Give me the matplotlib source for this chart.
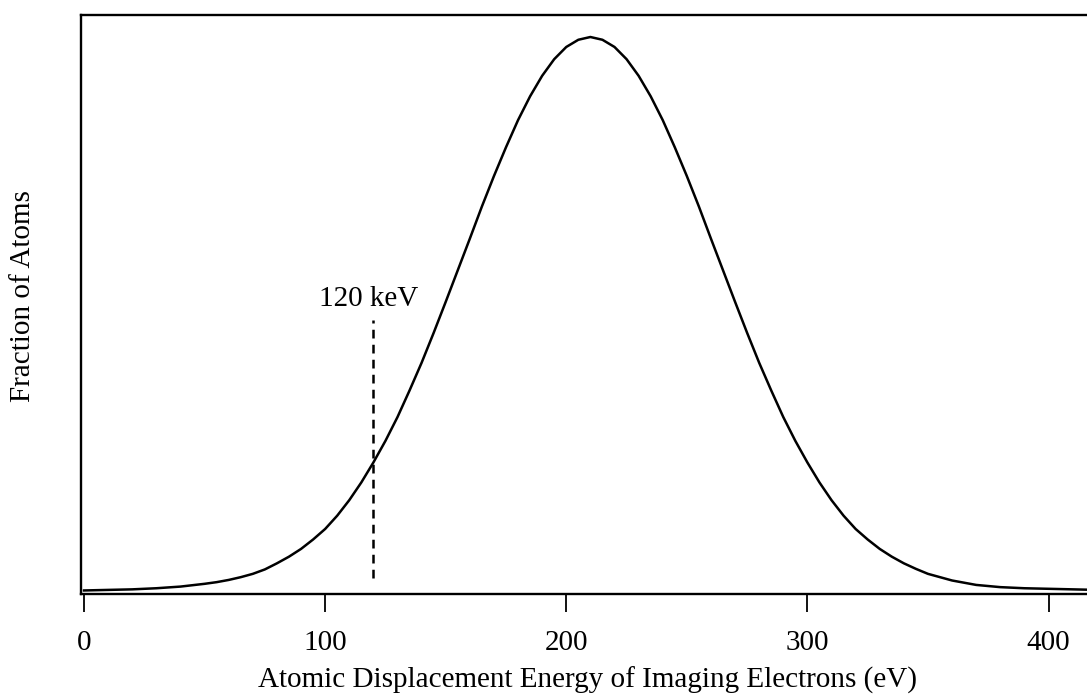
import matplotlib
matplotlib.use("Agg")
import matplotlib.pyplot as plt

plt.rcParams['font.family'] = ['Liberation Serif', 'DejaVu Serif']

# energy grid (eV) and relative fraction of atoms
energy = [0, 10, 20, 30, 40, 50, 55, 60, 65, 70, 75, 80, 85, 90, 95, 100,
          105, 110, 115, 120, 125, 130, 135, 140, 145, 150, 155, 160, 165,
          170, 175, 180, 185, 190, 195, 200, 205, 210, 215, 220, 225, 230,
          235, 240, 245, 250, 255, 260, 265, 270, 275, 280, 285, 290, 295,
          300, 305, 310, 315, 320, 325, 330, 335, 340, 345, 350, 355, 360,
          365, 370, 380, 390, 400, 410, 420]
fraction = [0.001, 0.002, 0.003, 0.005, 0.008, 0.013, 0.016, 0.020, 0.025,
            0.031, 0.039, 0.050, 0.062, 0.076, 0.093, 0.112, 0.136, 0.164,
            0.196, 0.232, 0.271, 0.314, 0.362, 0.412, 0.466, 0.522, 0.579,
            0.636, 0.694, 0.749, 0.801, 0.850, 0.893, 0.930, 0.960, 0.982,
            0.995, 1.000, 0.995, 0.982, 0.960, 0.930, 0.893, 0.850, 0.801,
            0.749, 0.694, 0.636, 0.579, 0.522, 0.466, 0.412, 0.362, 0.314,
            0.271, 0.232, 0.196, 0.164, 0.136, 0.112, 0.093, 0.076, 0.062,
            0.050, 0.040, 0.031, 0.025, 0.019, 0.015, 0.011, 0.007, 0.005,
            0.004, 0.003, 0.002]

beam_energy = 120
beam_label = '120 keV'
xticks = [0, 100, 200, 300, 400]

fig = plt.figure(figsize=(10.87, 6.94), dpi=100)
ax = fig.add_axes([0.0741, 0.1448, 0.9333, 0.8343])

ax.plot(energy, fraction, color='black', lw=1.8, solid_joinstyle='round')
ax.vlines(beam_energy, 0.023, 0.49, colors='black', lw=1.8,
          linestyles=(0, (3.5, 2.5)))
ax.text(117.9, 0.514, beam_label, ha='center', va='baseline', fontsize=21)

ax.set_xlim(-1.45, 419.3)
ax.set_ylim(-0.0045, 1.0406)
ax.set_xticks(xticks)
ax.set_yticks([])
ax.tick_params(axis='x', direction='out', length=13, width=1.3, pad=13,
               labelsize=21)
for side in ['left', 'top', 'bottom', 'right']:
    ax.spines[side].set_linewidth(1.7)

ax.set_xlabel('Atomic Displacement Energy of Imaging Electrons (eV)',
              fontsize=21, labelpad=8)
fig.text(0.0212, 0.5728, 'Fraction of Atoms', rotation=90, ha='center',
         va='center', fontsize=21)

fig.savefig('out.png', dpi=100)
